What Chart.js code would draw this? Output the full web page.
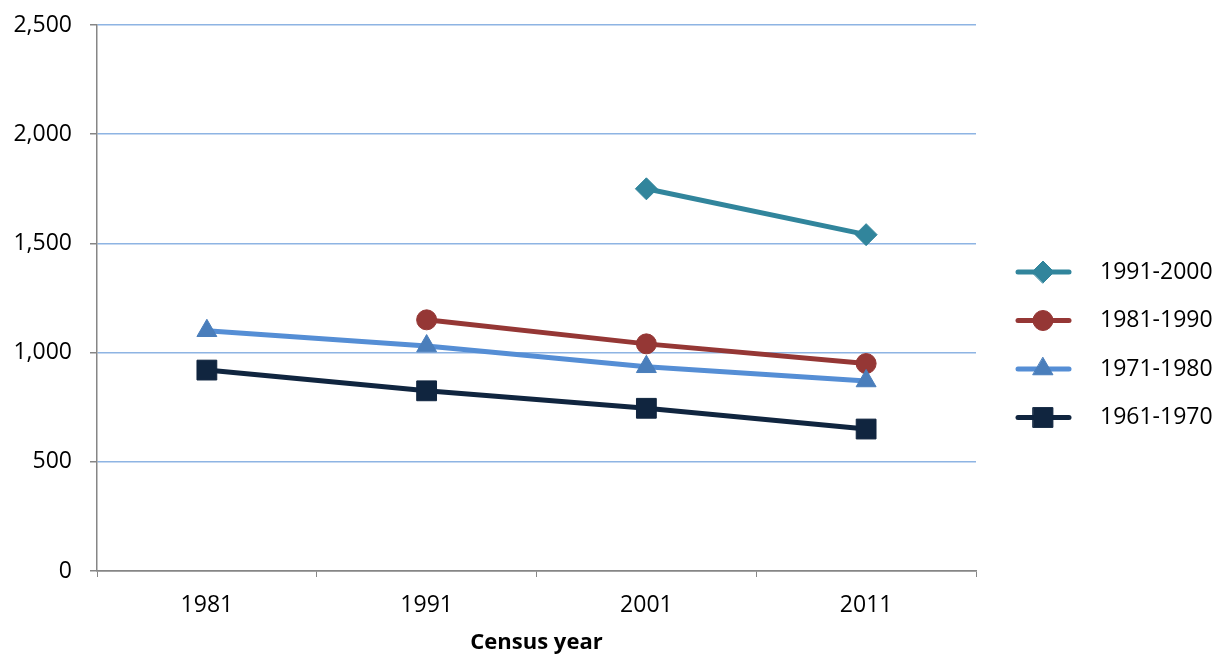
<!DOCTYPE html>
<html>
<head>
<meta charset="utf-8">
<script src="https://cdn.jsdelivr.net/npm/chart.js@4/dist/chart.umd.min.js"></script>
<style>
  body { margin: 0; background: #fff; }
  canvas { display: block; }
</style>
</head>
<body>
<canvas id="grafico" width="1217" height="656"></canvas>
<script>
// census years on the x axis
const anios = ["1981", "1991", "2001", "2011"];

// one line per decade of arrival
const serie1961 = [920, 825, 745, 650];
const serie1971 = [1100, 1030, 935, 870];
const serie1981 = [null, 1150, 1040, 950];
const serie1991 = [null, null, 1750, 1540];

const etiquetas = ["1961-1970", "1971-1980", "1981-1990", "1991-2000"];
const yTicks = [0, 500, 1000, 1500, 2000, 2500];

const fuente = "'Open Sans', 'Liberation Sans', sans-serif";

function dibujarMarcador(ctx, ds, x, y) {
  const opts = {
    pointStyle: ds.pointStyle,
    radius: ds.pointRadius,
    rotation: 0,
    borderWidth: 1
  };
  ctx.fillStyle = ds.pointBackgroundColor;
  ctx.strokeStyle = ds.pointBorderColor;
  ctx.lineWidth = 1;
  if (Chart.helpers && Chart.helpers.drawPoint) {
    Chart.helpers.drawPoint(ctx, opts, x, y);
    return;
  }
  const r = ds.pointRadius;
  ctx.beginPath();
  if (ds.pointStyle === "circle") ctx.arc(x, y, r, 0, Math.PI * 2);
  else if (ds.pointStyle === "rect") {
    const s = Math.SQRT1_2 * r;
    ctx.rect(x - s, y - s, 2 * s, 2 * s);
  } else if (ds.pointStyle === "rectRot") {
    ctx.moveTo(x, y - r); ctx.lineTo(x + r, y); ctx.lineTo(x, y + r); ctx.lineTo(x - r, y);
  } else {
    ctx.moveTo(x, y - r);
    ctx.lineTo(x + r * 0.866, y + r * 0.5);
    ctx.lineTo(x - r * 0.866, y + r * 0.5);
  }
  ctx.closePath();
  ctx.fill();
  ctx.stroke();
}

// legend on the right, line + marker like the original
const leyenda = {
  id: "leyenda",
  afterDraw(chart) {
    const ctx = chart.ctx;
    const sets = chart.data.datasets.slice().reverse();
    ctx.save();
    sets.forEach((ds, i) => {
      const y = 272 + i * 48.5;
      ctx.strokeStyle = ds.borderColor;
      ctx.lineWidth = 5;
      ctx.lineCap = "round";
      ctx.beginPath();
      ctx.moveTo(1018, y);
      ctx.lineTo(1069, y);
      ctx.stroke();
      dibujarMarcador(ctx, ds, 1043, y);
      ctx.fillStyle = "#000";
      ctx.font = "23px " + fuente;
      ctx.textAlign = "left";
      ctx.textBaseline = "middle";
      ctx.fillText(ds.label, 1100, y);
    });
    ctx.restore();
  }
};

const ctx = document.getElementById("grafico").getContext("2d");

new Chart(ctx, {
  type: "line",
  data: {
    labels: anios,
    datasets: [
      {
        label: etiquetas[0],
        data: serie1961,
        borderColor: "#10253F",
        pointBackgroundColor: "#10253F",
        pointBorderColor: "#10253F",
        pointStyle: "rect",
        pointRadius: 14
      },
      {
        label: etiquetas[1],
        data: serie1971,
        borderColor: "#558ED5",
        pointBackgroundColor: "#4A7EBB",
        pointBorderColor: "#4A7EBB",
        pointStyle: "triangle",
        pointRadius: 11.5
      },
      {
        label: etiquetas[2],
        data: serie1981,
        borderColor: "#953735",
        pointBackgroundColor: "#953735",
        pointBorderColor: "#953735",
        pointStyle: "circle",
        pointRadius: 10
      },
      {
        label: etiquetas[3],
        data: serie1991,
        borderColor: "#31859C",
        pointBackgroundColor: "#31859C",
        pointBorderColor: "#31859C",
        pointStyle: "rectRot",
        pointRadius: 11
      }
    ].map(d => Object.assign(d, { borderWidth: 5, tension: 0, pointBorderWidth: 1, pointHoverRadius: d.pointRadius }))
  },
  options: {
    responsive: false,
    animation: false,
    layout: { padding: { top: 25, right: 241, left: 0, bottom: 0 } },
    plugins: {
      legend: { display: false },
      tooltip: { enabled: false }
    },
    scales: {
      x: {
        offset: true,
        afterFit: s => { s.height = 85; s.paddingLeft = 0; s.paddingRight = 0; },
        grid: {
          offset: true,
          drawOnChartArea: false,
          drawTicks: true,
          tickLength: 6,
          tickColor: "#868686"
        },
        border: { color: "#868686", width: 1.5 },
        ticks: {
          color: "#000",
          padding: 15,
          font: { family: fuente, size: 23 }
        },
        title: {
          display: true,
          text: "Census year",
          color: "#000",
          padding: { top: 0, bottom: 0 },
          font: { family: fuente, size: 22, weight: "bold" }
        }
      },
      y: {
        min: 0,
        max: 2500,
        afterFit: s => { s.width = 97; s.paddingTop = 0; s.paddingBottom = 0; },
        afterBuildTicks: s => { s.ticks = yTicks.map(v => ({ value: v })); },
        grid: {
          color: c => (c.tick && c.tick.value === 0 ? "#868686" : "#8EB4E3"),
          lineWidth: 1.5,
          tickLength: 7,
          tickColor: "#868686"
        },
        border: { color: "#868686", width: 1.5 },
        ticks: {
          color: "#000",
          padding: 18,
          font: { family: fuente, size: 23 },
          callback: v => v.toLocaleString("en-US")
        }
      }
    }
  },
  plugins: [leyenda]
});
</script>
</body>
</html>
